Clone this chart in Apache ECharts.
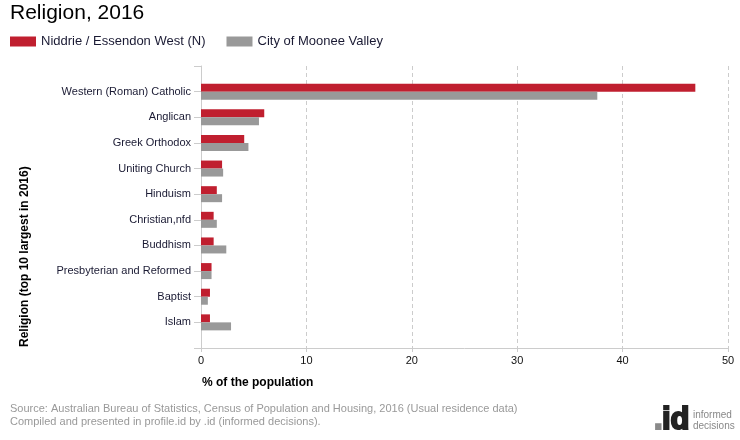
<!DOCTYPE html>
<html>
<head>
<meta charset="utf-8">
<script src="https://cdn.jsdelivr.net/npm/echarts@6/dist/echarts.min.js"></script>
<style>
  * { margin: 0; padding: 0; }
  body { background: #fff; }
  #chart { width: 740px; height: 440px; }
</style>
</head>
<body>
<div id="chart"></div>
<script>
// religions, top to bottom
const categories = [
  'Western (Roman) Catholic', 'Anglican', 'Greek Orthodox', 'Uniting Church', 'Hinduism',
  'Christian,nfd', 'Buddhism', 'Presbyterian and Reformed', 'Baptist', 'Islam'
]
const niddrie = [46.9, 6.0, 4.1, 2.0, 1.5, 1.2, 1.2, 1.0, 0.85, 0.85]
const mooneeValley = [37.6, 5.5, 4.5, 2.1, 2.0, 1.5, 2.4, 1.0, 0.65, 2.85]
const xTicks = [0, 10, 20, 30, 40, 50]

// blank slot above and below so the axis has room at both ends
const pad = arr => ['-'].concat(arr, ['-'])
const font = '"Liberation Sans", Arial, sans-serif'

const chart = echarts.init(document.getElementById('chart'))
chart.setOption({
  animation: false,
  textStyle: { fontFamily: font },
  title: {
    text: 'Religion, 2016',
    left: 10, top: 3, padding: 0,
    textStyle: { fontSize: 21, fontWeight: 'normal', color: '#000', fontFamily: font }
  },
  legend: {
    left: 10, top: 35, padding: 0,
    itemWidth: 26, itemHeight: 10, itemGap: 21,
    icon: 'rect',
    textStyle: { fontSize: 13, color: '#1a1a33', padding: [0, 0, 0, 0] },
    data: ['Niddrie / Essendon West (N)', 'City of Moonee Valley']
  },
  grid: { left: 201, right: 12, top: 66, bottom: 92 },
  xAxis: {
    type: 'value',
    min: xTicks[0], max: xTicks[xTicks.length - 1], interval: 10,
    axisLine: { show: true, lineStyle: { color: '#cccccc' } },
    axisTick: { show: true, length: 4, lineStyle: { color: '#cccccc' } },
    axisLabel: { color: '#111', fontSize: 11, margin: 7 },
    splitLine: { show: true, lineStyle: { color: '#cccccc', type: [4, 3] } }
  },
  yAxis: {
    type: 'category',
    inverse: true,
    boundaryGap: false,
    data: [''].concat(categories, ['']),
    axisLine: { show: true, lineStyle: { color: '#cccccc' } },
    axisTick: { show: true, length: 7, interval: 0, lineStyle: { color: '#cccccc' } },
    axisLabel: { color: '#1a1a33', fontSize: 11, margin: 10, interval: 0 },
    splitLine: { show: false }
  },
  series: [
    {
      name: 'Niddrie / Essendon West (N)',
      type: 'bar',
      data: pad(niddrie),
      barWidth: 8,
      barGap: '0%',
      itemStyle: { color: '#c01f2f' }
    },
    {
      name: 'City of Moonee Valley',
      type: 'bar',
      data: pad(mooneeValley),
      barWidth: 8,
      barGap: '0%',
      itemStyle: { color: '#999999' }
    }
  ],
  graphic: [
    {
      type: 'text', x: 25, y: 347, rotation: Math.PI / 2,
      style: {
        text: 'Religion (top 10 largest in 2016)', fill: '#000',
        font: 'bold 12px ' + font, align: 'left', verticalAlign: 'middle'
      }
    },
    {
      type: 'text', left: 202, top: 377,
      style: { text: '% of the population', fill: '#000', font: 'bold 12px ' + font }
    },
    {
      type: 'text', left: 10, top: 402,
      style: {
        text: 'Source: Australian Bureau of Statistics, Census of Population and Housing, 2016 (Usual residence data)\nCompiled and presented in profile.id by .id (informed decisions).',
        fill: '#999', font: '11px ' + font, lineHeight: 13
      }
    },
    {
      type: 'text', x: 654, y: 405,
      style: { text: '.', fill: '#8a8a8a', stroke: '#8a8a8a', lineWidth: 2, font: 'bold 31px ' + font }
    },
    {
      type: 'text', x: 662, y: 405,
      style: { text: 'id', fill: '#222', stroke: '#222', lineWidth: 2, font: 'bold 31px ' + font }
    },
    {
      type: 'text', x: 693, y: 410,
      style: { text: 'informed\ndecisions', fill: '#888', font: '10px ' + font, lineHeight: 11 }
    }
  ]
})
</script>
</body>
</html>
